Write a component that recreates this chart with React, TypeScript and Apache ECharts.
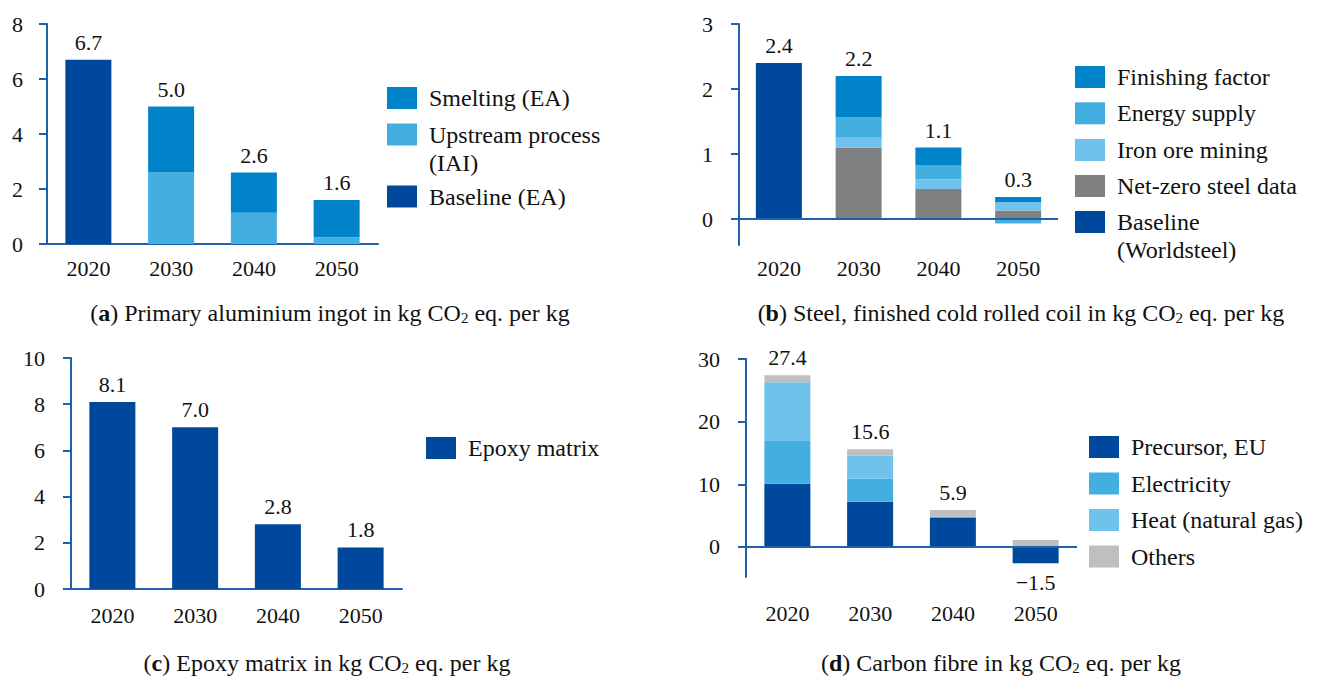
import React, { useEffect, useRef } from "react";
import * as echarts from "echarts";

// Shared categories
const YEARS = ["2020", "2030", "2040", "2050"];

// (a) Primary aluminium ingot, kg CO2 eq. per kg
const AL_BASELINE = [6.7, null, null, null];
const AL_UPSTREAM = [null, 2.6, 1.14, 0.25];
const AL_SMELTING = [null, 2.4, 1.46, 1.35];

// (b) Steel, finished cold rolled coil
const ST_BASELINE = [2.4, null, null, null];
const ST_NETZERO = [null, 1.1, 0.46, 0.13];
const ST_IRON_ORE = [null, 0.15, 0.15, 0.13];
const ST_ENERGY = [null, 0.31, 0.22, -0.07];
const ST_FINISHING = [null, 0.64, 0.27, 0.08];

// (c) Epoxy matrix
const EPOXY = [8.1, 7.0, 2.8, 1.8];

// (d) Carbon fibre
const CF_PRECURSOR = [10.1, 7.2, 4.6, -2.6];
const CF_ELECTRICITY = [6.8, 3.7, 0.2, null];
const CF_HEAT = [9.4, 3.7, null, null];
const CF_OTHERS = [1.1, 1.0, 1.1, 1.1];

// Axis ticks
const AL_TICKS = [0, 2, 4, 6, 8];
const ST_TICKS = [0, 1, 2, 3];
const EP_TICKS = [0, 2, 4, 6, 8, 10];
const CF_TICKS = [0, 10, 20, 30];

const FONT = '"Liberation Serif", "Times New Roman", serif';
const TEXT = "#111111";
const AXIS = "#2160AD";
const DARK = "#00489B";
const SMELT = "#0083C9";
const MID = "#43AFE0";
const LIGHT = "#6EC2EB";
const GRAY = "#808080";
const LGRAY = "#BFBFBF";

type Comp = { name: string; color: string; data: (number | null)[] };

type Panel = {
  grid: { left: number; top: number; width: number; height: number };
  min: number;
  max: number;
  ticks: number[];
  zeroLine: boolean;
  catMargin: number;
  valMargin: number;
  comps: Comp[];
  legend: { label: string; color: string; cy: number }[];
  legendX: number;
  caption: string;
  captionX: number;
  captionY: number;
};

const PANELS: Panel[] = [
  {
    grid: { left: 47, top: 24, width: 331, height: 220 },
    min: 0,
    max: 8,
    ticks: AL_TICKS,
    zeroLine: false,
    catMargin: 13,
    valMargin: 24,
    comps: [
      { name: "Baseline (EA)", color: DARK, data: AL_BASELINE },
      { name: "Upstream process (IAI)", color: MID, data: AL_UPSTREAM },
      { name: "Smelting (EA)", color: SMELT, data: AL_SMELTING },
    ],
    legend: [
      { label: "Smelting (EA)", color: SMELT, cy: 98 },
      { label: "Upstream process\n(IAI)", color: MID, cy: 134.5 },
      { label: "Baseline (EA)", color: DARK, cy: 196.5 },
    ],
    legendX: 387,
    caption: "({b|a}) Primary aluminium ingot in kg CO{s|2} eq. per kg",
    captionX: 330,
    captionY: 313,
  },
  {
    grid: { left: 739, top: 24, width: 319, height: 221 },
    min: -0.4,
    max: 3,
    ticks: ST_TICKS,
    zeroLine: true,
    catMargin: 12,
    valMargin: 26,
    comps: [
      { name: "Baseline (Worldsteel)", color: DARK, data: ST_BASELINE },
      { name: "Net-zero steel data", color: GRAY, data: ST_NETZERO },
      { name: "Iron ore mining", color: LIGHT, data: ST_IRON_ORE },
      { name: "Energy supply", color: MID, data: ST_ENERGY },
      { name: "Finishing factor", color: SMELT, data: ST_FINISHING },
    ],
    legend: [
      { label: "Finishing factor", color: SMELT, cy: 77 },
      { label: "Energy supply", color: MID, cy: 113.3 },
      { label: "Iron ore mining", color: LIGHT, cy: 150 },
      { label: "Net-zero steel data", color: GRAY, cy: 186 },
      { label: "Baseline\n(Worldsteel)", color: DARK, cy: 222 },
    ],
    legendX: 1075,
    caption: "({b|b}) Steel, finished cold rolled coil in kg CO{s|2} eq. per kg",
    captionX: 1021,
    captionY: 313,
  },
  {
    grid: { left: 71, top: 358, width: 331, height: 231 },
    min: 0,
    max: 10,
    ticks: EP_TICKS,
    zeroLine: false,
    catMargin: 15,
    valMargin: 26,
    comps: [{ name: "Epoxy matrix", color: DARK, data: EPOXY }],
    legend: [{ label: "Epoxy matrix", color: DARK, cy: 448 }],
    legendX: 426,
    caption: "({b|c}) Epoxy matrix in kg CO{s|2} eq. per kg",
    captionX: 327,
    captionY: 663,
  },
  {
    grid: { left: 746, top: 359, width: 331, height: 218 },
    min: -4.8,
    max: 30,
    ticks: CF_TICKS,
    zeroLine: true,
    catMargin: 25,
    valMargin: 26,
    comps: [
      { name: "Precursor, EU", color: DARK, data: CF_PRECURSOR },
      { name: "Electricity", color: MID, data: CF_ELECTRICITY },
      { name: "Heat (natural gas)", color: LIGHT, data: CF_HEAT },
      { name: "Others", color: LGRAY, data: CF_OTHERS },
    ],
    legend: [
      { label: "Precursor, EU", color: DARK, cy: 447 },
      { label: "Electricity", color: MID, cy: 483.5 },
      { label: "Heat (natural gas)", color: LIGHT, cy: 520 },
      { label: "Others", color: LGRAY, cy: 556.5 },
    ],
    legendX: 1089,
    caption: "({b|d}) Carbon fibre in kg CO{s|2} eq. per kg",
    captionX: 1001,
    captionY: 663,
  },
];

function buildOption() {
  const grids: any[] = [];
  const xAxes: any[] = [];
  const yAxes: any[] = [];
  const series: any[] = [];
  const graphics: any[] = [];

  PANELS.forEach((p, i) => {
    grids.push({ ...p.grid, containLabel: false });

    xAxes.push({
      gridIndex: i,
      type: "category",
      data: YEARS,
      boundaryGap: true,
      axisLine: {
        show: !p.zeroLine,
        onZero: false,
        lineStyle: { color: AXIS, width: 2 },
      },
      axisTick: { show: false },
      axisLabel: {
        margin: p.catMargin,
        fontFamily: FONT,
        fontSize: 22,
        color: TEXT,
      },
      splitLine: { show: false },
    });

    yAxes.push({
      gridIndex: i,
      type: "value",
      min: p.min,
      max: p.max,
      axisLine: { show: true, lineStyle: { color: AXIS, width: 2 } },
      axisTick: {
        show: true,
        length: 8,
        lineStyle: { color: AXIS, width: 2 },
        customValues: p.ticks,
      },
      axisLabel: {
        margin: p.valMargin,
        fontFamily: FONT,
        fontSize: 22,
        color: TEXT,
        customValues: p.ticks,
      },
      splitLine: { show: false },
    });

    p.comps.forEach((c, k) => {
      const s: any = {
        type: "bar",
        name: c.name,
        xAxisIndex: i,
        yAxisIndex: i,
        stack: "panel" + i,
        barWidth: 46,
        data: c.data,
        itemStyle: { color: c.color },
        silent: true,
      };
      if (k === 0 && p.zeroLine) {
        s.markLine = {
          silent: true,
          symbol: ["none", "none"],
          label: { show: false },
          lineStyle: { color: AXIS, width: 2, type: "solid" },
          data: [{ yAxis: 0 }],
        };
      }
      series.push(s);
    });

    // Totals above (or below) each stacked bar
    const totals = YEARS.map((_, j) =>
      p.comps.reduce((acc, c) => acc + (c.data[j] ?? 0), 0)
    );
    const anchors = YEARS.map((_, j) => {
      let pos = 0;
      let neg = 0;
      p.comps.forEach((c) => {
        const v = c.data[j] ?? 0;
        if (v >= 0) pos += v;
        else neg += v;
      });
      return totals[j] >= 0 ? pos : neg;
    });
    series.push({
      type: "scatter",
      xAxisIndex: i,
      yAxisIndex: i,
      symbolSize: 1,
      itemStyle: { color: "rgba(255,255,255,0)" },
      silent: true,
      z: 5,
      data: anchors.map((a, j) => ({
        value: a,
        label: {
          position: totals[j] < 0 ? "bottom" : "top",
          distance: totals[j] < 0 ? 8 : 6,
        },
      })),
      label: {
        show: true,
        fontFamily: FONT,
        fontSize: 22,
        color: TEXT,
        opacity: 1,
        textBorderWidth: 0,
        formatter: (prm: any) => {
          const t = totals[prm.dataIndex];
          const s = Math.abs(t).toFixed(1);
          return t < 0 ? "\u2212" + s : s;
        },
      },
    });

    // Legend block
    p.legend.forEach((l) => {
      graphics.push({
        type: "rect",
        shape: { x: p.legendX, y: l.cy - 11, width: 30, height: 22 },
        style: { fill: l.color },
        silent: true,
      });
      graphics.push({
        type: "text",
        style: {
          text: l.label,
          x: p.legendX + 42,
          y: l.cy - 14,
          font: `24px ${FONT}`,
          lineHeight: 28,
          fill: TEXT,
          align: "left",
          verticalAlign: "top",
        },
        silent: true,
      });
    });

    // Panel caption
    graphics.push({
      type: "text",
      style: {
        text: p.caption,
        x: p.captionX,
        y: p.captionY,
        align: "center",
        verticalAlign: "middle",
        font: `24px ${FONT}`,
        fill: TEXT,
        rich: {
          b: { fontFamily: FONT, fontSize: 24, fontWeight: "bold", fill: TEXT },
          s: {
            fontFamily: FONT,
            fontSize: 15,
            fill: TEXT,
            verticalAlign: "bottom",
            lineHeight: 19,
          },
        },
      },
      silent: true,
    });
  });

  return {
    animation: false,
    backgroundColor: "#ffffff",
    textStyle: { fontFamily: FONT },
    grid: grids,
    xAxis: xAxes,
    yAxis: yAxes,
    series,
    graphic: graphics,
  };
}

export default function App() {
  const ref = useRef<HTMLDivElement>(null);
  useEffect(() => {
    if (!ref.current) return;
    const chart = echarts.init(ref.current, undefined, { renderer: "svg" });
    chart.setOption(buildOption() as any);
    return () => chart.dispose();
  }, []);
  return (
    <div
      ref={ref}
      style={{
        position: "absolute",
        left: 0,
        top: 0,
        width: 1326,
        height: 681,
        background: "#fff",
      }}
    />
  );
}
